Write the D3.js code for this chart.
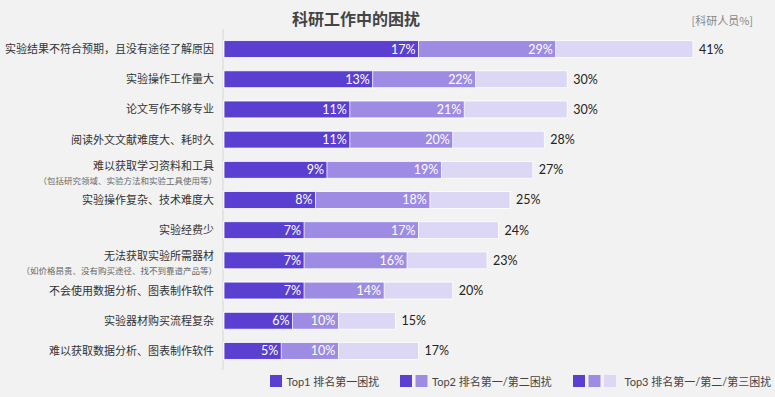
<!DOCTYPE html>
<html>
<head>
<meta charset="utf-8">
<script src="https://cdn.jsdelivr.net/npm/d3@7"></script>
<style>
  html, body { margin: 0; padding: 0; background: #f2f2f2; }
  svg { display: block; }
  text { font-family: "Noto Sans CJK SC", "Noto Sans", sans-serif; }
  text.num { font-family: Lato, "Noto Sans CJK SC", sans-serif; }
</style>
</head>
<body>
<div id="chart"></div>
<script>
var categories = [
    '实验结果不符合预期，且没有途径了解原因',
    '实验操作工作量大',
    '论文写作不够专业',
    '阅读外文文献难度大、耗时久',
    '难以获取学习资料和工具',
    '实验操作复杂、技术难度大',
    '实验经费少',
    '无法获取实验所需器材',
    '不会使用数据分析、图表制作软件',
    '实验器材购买流程复杂',
    '难以获取数据分析、图表制作软件'
];
var subLabels = ['', '', '', '', '（包括研究领域、实验方法和实验工具使用等）', '', '',
    '（如价格昂贵、没有购买途径、找不到靠谱产品等）', '', '', ''];
var top1 = [17, 13, 11, 11, 9, 8, 7, 7, 7, 6, 5];
var top2 = [29, 22, 21, 20, 19, 18, 17, 16, 14, 10, 10];
var top3 = [41, 30, 30, 28, 27, 25, 24, 23, 20, 15, 17];
var legendNames = ['Top1 排名第一困扰', 'Top2 排名第一/第二困扰', 'Top3 排名第一/第二/第三困扰'];

var colors = ['#5a3fd0', '#9d8be4', '#ddd7f6'];
var W = 775, H = 397;

var svg = d3.select('#chart').append('svg')
    .attr('width', W).attr('height', H);

svg.append('rect').attr('width', W).attr('height', H).attr('fill', '#f2f2f2');

var x = d3.scaleLinear().domain([0, 41]).range([224, 693]);
var y = d3.scaleBand().domain(d3.range(categories.length))
    .range([34, 366]).paddingInner(0.44).paddingOuter(0.22);

// title
svg.append('text').attr('x', 356).attr('y', 25)
    .attr('text-anchor', 'middle').attr('font-size', 16).attr('font-weight', 'bold')
    .attr('fill', '#444').text('科研工作中的困扰');
svg.append('text').attr('x', 753).attr('y', 25)
    .attr('text-anchor', 'end').attr('font-size', 11)
    .attr('fill', '#888').text('[科研人员%]');

// axis line
svg.append('line').attr('x1', 223).attr('x2', 223).attr('y1', 29).attr('y2', 370)
    .attr('stroke', '#d6d6d6').attr('stroke-width', 1);

var rows = svg.selectAll('g.row').data(categories).enter().append('g')
    .attr('class', 'row')
    .attr('transform', function(d, i) { return 'translate(0,' + y(i) + ')'; });

var bh = y.bandwidth();

// draw back to front: top3, top2, top1
[top3, top2, top1].forEach(function(arr, k) {
    var c = colors[2 - k];
    rows.append('rect')
        .attr('x', x(0))
        .attr('y', 0)
        .attr('width', function(d, i) { return x(arr[i]) - x(0); })
        .attr('height', bh)
        .attr('fill', c)
        .attr('stroke', '#ffffff').attr('stroke-width', 0.8);
});

// inner labels
[top1, top2].forEach(function(arr) {
    rows.append('text').attr('class', 'num')
        .attr('x', function(d, i) { return x(arr[i]) - 3; })
        .attr('y', bh / 2 + 4.5)
        .attr('text-anchor', 'end').attr('font-size', 12.5)
        .attr('fill', '#ffffff')
        .text(function(d, i) { return arr[i] + '%'; });
});

// total labels
rows.append('text').attr('class', 'num')
    .attr('x', function(d, i) { return x(top3[i]) + 6; })
    .attr('y', bh / 2 + 4.5)
    .attr('font-size', 12.5).attr('fill', '#222')
    .text(function(d, i) { return top3[i] + '%'; });

// category labels
rows.append('text')
    .attr('x', 214)
    .attr('y', function(d, i) { return subLabels[i] ? bh / 2 : bh / 2 + 4; })
    .attr('text-anchor', 'end').attr('font-size', 11).attr('fill', '#333')
    .text(function(d) { return d; });
rows.filter(function(d, i) { return subLabels[i]; })
    .append('text')
    .attr('x', 217)
    .attr('y', bh / 2 + 14)
    .attr('text-anchor', 'end').attr('font-size', 8.5).attr('fill', '#666')
    .text(function(d) { return subLabels[categories.indexOf(d)]; });

// legend
var legendX = [270, 400, 573];
var lg = svg.selectAll('g.lg').data(legendNames).enter().append('g')
    .attr('class', 'lg')
    .attr('transform', function(d, i) { return 'translate(' + legendX[i] + ',375)'; });
lg.each(function(d, i) {
    var g = d3.select(this);
    for (var k = 0; k <= i; k++) {
        g.append('rect').attr('x', k * 15.5).attr('y', 0)
            .attr('width', 12).attr('height', 12).attr('fill', colors[k]);
    }
    g.append('text').attr('class', 'num')
        .attr('x', (i + 1) * 15.5 + 1 + (i == 2 ? 4 : 0)).attr('y', 10.5)
        .attr('font-size', 11).attr('fill', '#444').text(d);
});
</script>
</body>
</html>
